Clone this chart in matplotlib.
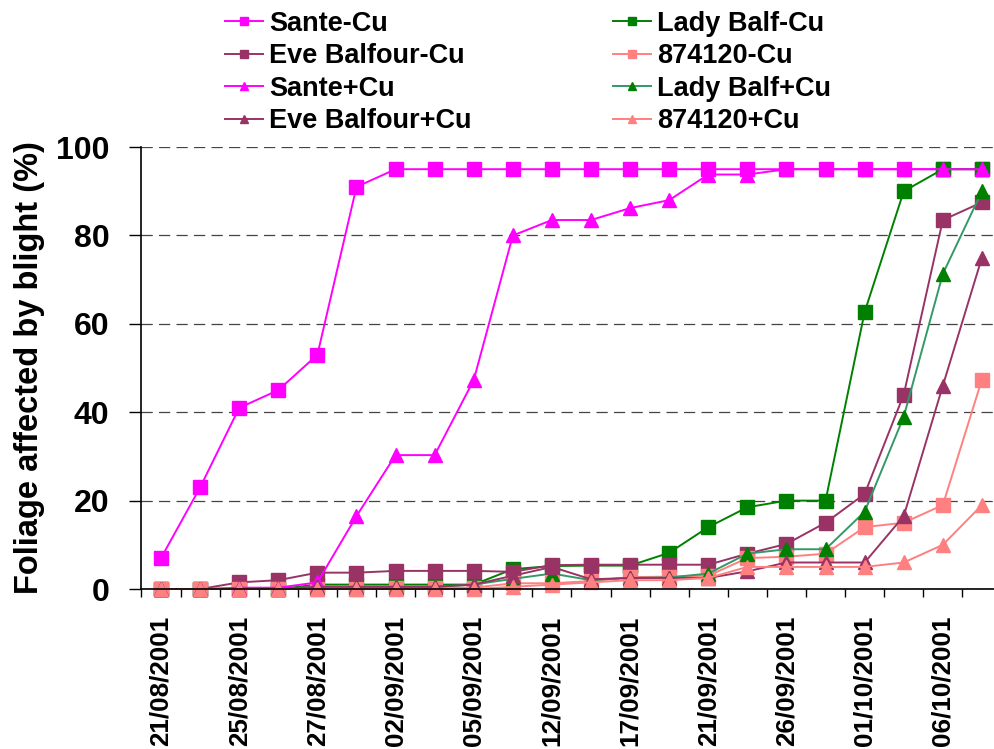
import numpy as np
import matplotlib.pyplot as plt

plt.rcParams['font.family'] = ['Liberation Sans', 'DejaVu Sans']
plt.rcParams['font.weight'] = 'bold'

# only every other date is printed on the original axis
dates = ["21/08/2001", "", "25/08/2001", "", "27/08/2001", "", "02/09/2001", "",
         "05/09/2001", "", "12/09/2001", "", "17/09/2001", "", "21/09/2001", "",
         "26/09/2001", "", "01/10/2001", "", "06/10/2001", ""]

sante_cu = [7, 23, 41, 45, 53, 91, 95, 95, 95, 95, 95, 95, 95, 95, 95, 95, 95, 95, 95, 95, 95, 95]
lady_cu = [0, 0, 0, 0, 1, 1, 1, 1, 1, 4.5, 5.2, 5.3, 5.3, 8.2, 14, 18.5, 20, 20, 62.7, 90, 95, 95]
eve_cu = [0, 0, 1.5, 2, 3.7, 3.7, 4.1, 4.1, 4.1, 3.9, 5.4, 5.5, 5.5, 5.5, 5.5, 8, 10.2, 15, 21.5, 44, 83.5, 87.5]
c874_cu = [0, 0, 0, 0, 0, 0, 0.3, 0.3, 0.3, 1.3, 1.3, 1.8, 2.7, 2.8, 3, 7, 7.3, 8, 14, 15, 19, 47.4]
sante_p = [0, 0, 0.3, 0.3, 1.5, 16.5, 30.3, 30.3, 47.3, 80, 83.5, 83.5, 86.2, 88, 93.8, 93.8, 95, 95, 95, 95, 95, 95]
lady_p = [0, 0, 0, 0, 0.5, 0.5, 0.5, 0.5, 1, 2.3, 3.5, 2, 2.5, 2.6, 3.5, 8, 9, 9, 17.5, 39, 71.3, 90]
eve_p = [0, 0, 0, 0, 0.5, 0.5, 0.5, 0.5, 1, 3, 5, 2.2, 2.5, 2.5, 2.5, 4, 6, 6, 6, 16.5, 46, 75]
c874_p = [0, 0, 0, 0, 0, 0, 0, 0, 0, 0.5, 1, 1.5, 2, 2, 2.5, 5, 5, 5, 5, 6, 10, 19]

series = [
    ("Sante-Cu", sante_cu, "#FF00FF", "#FF00FF", "s"),
    ("Lady Balf-Cu", lady_cu, "#008000", "#008000", "s"),
    ("Eve Balfour-Cu", eve_cu, "#993366", "#993366", "s"),
    ("874120-Cu", c874_cu, "#FF8080", "#FF8080", "s"),
    ("Sante+Cu", sante_p, "#FF00FF", "#FF00FF", "^"),
    ("Lady Balf+Cu", lady_p, "#339966", "#008000", "^"),
    ("Eve Balfour+Cu", eve_p, "#993366", "#993366", "^"),
    ("874120+Cu", c874_p, "#FF8080", "#FF8080", "^"),
]

fig = plt.figure(figsize=(9.95, 7.49), dpi=100)
ax = fig.add_axes([0.1422, 0.2136, 0.8643, 0.590])

x = np.arange(len(dates))
handles = {}
for name, vals, lc, mc, mk in series:
    h, = ax.plot(x, vals, color=lc, lw=1.4, marker=mk,
                 markersize=9.5 if mk == "s" else 10.5,
                 markerfacecolor=mc, markeredgecolor=mc, label=name, clip_on=False)
    handles[name] = h

ax.set_xlim(-0.5, len(dates) - 0.5)
ax.set_ylim(0, 100)
ax.set_yticks([0, 20, 40, 60, 80, 100])
ax.tick_params(axis='y', labelsize=23, length=9, width=1, pad=14, direction='out')
ax.yaxis.grid(True, linestyle=(0, (9, 5)), color='#444444', lw=0.9)

ax.set_xticks(x[::2])
ax.set_xticklabels(dates[::2], rotation=90, fontsize=18.7, fontweight='bold')
ax.set_xticks(np.arange(-0.5, len(dates), 1), minor=True)
ax.tick_params(axis='x', which='major', length=0, pad=19)
ax.tick_params(axis='x', which='minor', length=6, width=1, direction='out')

ax.set_ylabel("Foliage affected by blight (%)", fontsize=23.5, fontweight='bold', labelpad=8)

for s in ['top', 'right']:
    ax.spines[s].set_visible(False)
for s in ['left', 'bottom']:
    ax.spines[s].set_linewidth(1.2)
ax.set_axisbelow(True)

order = ["Sante-Cu", "Eve Balfour-Cu", "Sante+Cu", "Eve Balfour+Cu",
         "Lady Balf-Cu", "874120-Cu", "Lady Balf+Cu", "874120+Cu"]
fig.legend([handles[n] for n in order], order, ncol=2, frameon=False,
           loc='upper left', bbox_to_anchor=(0.213, 1.004),
           handlelength=1.4, handletextpad=0.2, columnspacing=5.25,
           labelspacing=0.24, borderpad=0.0, markerscale=0.55,
           prop={'weight': 'bold', 'size': 19.5})

fig.savefig("out.png", dpi=100)
